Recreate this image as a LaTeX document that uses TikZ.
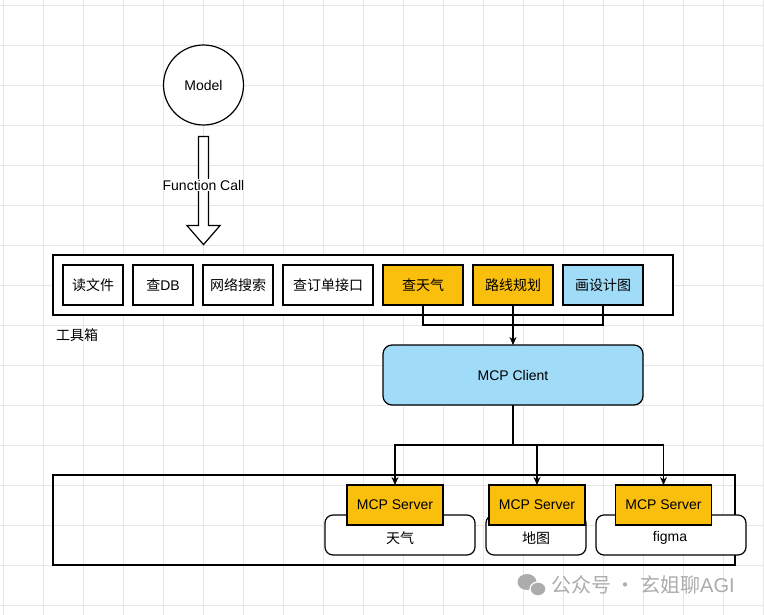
\documentclass[tikz,border=0pt]{standalone}
\usepackage{fontspec}
\setmainfont{Liberation Sans}
\newfontfamily\cjk{Noto Sans CJK SC}
\usetikzlibrary{arrows.meta,calc}
\definecolor{gridc}{RGB}{230,230,230}
\definecolor{orangec}{RGB}{250,190,12}
\definecolor{bluec}{RGB}{160,219,247}
\definecolor{wmc}{RGB}{172,172,172}
\tikzset{
  box/.style={draw=black,line width=1.2pt,inner sep=0pt,outer sep=0pt,minimum height=40pt,font=\fontsize{14}{16}\selectfont\cjk},
  orangebox/.style={box,fill=orangec},
  bluebox/.style={box,fill=bluec},
  roundbox/.style={box,fill=white,rounded corners=8pt,minimum height=40pt},
  frame/.style={draw=black,line width=1.2pt,inner sep=0pt,outer sep=0pt},
  conn/.style={draw=black,line width=1.2pt},
  arr/.style={conn,-{Stealth[length=8pt,width=7pt]}},
  txt/.style={inner sep=0pt,font=\fontsize{14}{16}\selectfont},
}
\begin{document}
\begin{tikzpicture}[x=1pt,y=-1pt]
\useasboundingbox (0,0) rectangle (764,615);
\fill[white] (0,0) rectangle (764,615);
% grid
\foreach \gx in {3,43,...,763} \draw[gridc,line width=0.7pt] (\gx,0) -- (\gx,615);
\foreach \gy in {5,45,...,605} \draw[gridc,line width=0.7pt] (0,\gy) -- (764,\gy);

% model
\node[draw=black,line width=1.2pt,circle,minimum size=80pt,inner sep=0pt,fill=white,font=\fontsize{14}{16}\selectfont] (model) at (203.5,85) {Model};

% toolbox
\node[frame,minimum width=620pt,minimum height=60pt,fill=white] (toolbox) at (363,285) {};
\node[box,minimum width=60pt,fill=white] (t1) at (93,285) {读文件};
\node[box,minimum width=60pt,fill=white] (t2) at (163,285) {查\fontspec{Liberation Sans}DB};
\node[box,minimum width=70pt,fill=white] (t3) at (238,285) {网络搜索};
\node[box,minimum width=90pt,fill=white] (t4) at (328,285) {查订单接口};
\node[orangebox,minimum width=80pt] (tq) at (423,285) {查天气};
\node[orangebox,minimum width=80pt] (lx) at (513,285) {路线规划};
\node[bluebox,minimum width=80pt] (sj) at (603,285) {画设计图};
\node[txt,anchor=west,font=\fontsize{14}{16}\selectfont\cjk] (tbl) at (56,335) {工具箱};

% hollow arrow (Function Call)
\draw[line width=1.2pt,fill=white,line join=miter]
  ($(model.south)+(-5,11)$) -- ($(model.south)+(5,11)$) -- ($(model.south)+(5,100)$)
  -- ($(model.south)+(16.5,100)$) -- ($(model.south)+(0,119)$) -- ($(model.south)+(-16.5,100)$)
  -- ($(model.south)+(-5,100)$) -- cycle;
\node[txt,fill=white,inner sep=1pt] (fc) at (203.5,185) {Function Call};

% MCP client
\node[bluebox,rounded corners=9pt,minimum width=260pt,minimum height=60pt,font=\fontsize{14}{16}\selectfont] (client) at (513,375) {MCP Client};

\coordinate (j) at (513,325);
\draw[conn] (tq.south) |- (j);
\draw[conn] (sj.south) |- (j);
\draw[arr] (lx.south) -- (client.north);

% server frame
\node[frame,minimum width=682pt,minimum height=90pt] (srvframe) at (394,520) {};
\node[roundbox,minimum width=150pt] (r1) at (400,535) {};
\node[roundbox,minimum width=100pt] (r2) at (536,535) {};
\node[roundbox,minimum width=150pt] (r3) at (671,535) {};
\node[txt,font=\fontsize{14}{16}\selectfont\cjk] (l1) at (400,538) {天气};
\node[txt,font=\fontsize{14}{16}\selectfont\cjk] (l2) at (536,538) {地图};
\node[txt] (l3) at (670,538) {figma};
\node[orangebox,minimum width=96pt,font=\fontsize{14}{16}\selectfont] (s1) at (395,505) {MCP Server};
\node[orangebox,minimum width=96pt,font=\fontsize{14}{16}\selectfont] (s2) at (537,505) {MCP Server};
\node[orangebox,minimum width=96pt,font=\fontsize{14}{16}\selectfont] (s3) at (663.5,505) {MCP Server};

\draw[conn] (client.south) -- ++(0,40) coordinate (b);
\draw[arr] (b) -| (s1.north);
\draw[arr] (b) -| (s2.north);
\draw[arr] (b) -| (s3.north);

% watermark
\fill[wmc] (527,582) ellipse [x radius=9.5pt,y radius=8pt];
\draw[white,line width=1.2pt,fill=wmc] (538,589) ellipse [x radius=8pt,y radius=7pt];
\node[txt,anchor=west,text=wmc,font=\fontsize{20}{22}\selectfont\cjk] (wm) at (551,585) {公众号 · 玄姐聊\fontspec{Liberation Sans}AGI};
\end{tikzpicture}
\end{document}
